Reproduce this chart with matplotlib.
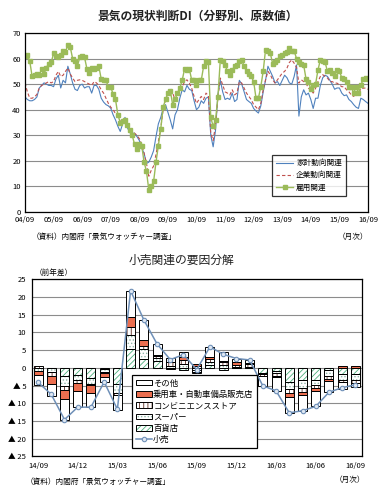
import numpy as np
import matplotlib
matplotlib.use('Agg')
import matplotlib.pyplot as plt
from matplotlib.patches import Patch
from matplotlib.lines import Line2D
from matplotlib.legend_handler import HandlerTuple

plt.rcParams['font.family'] = ['Noto Sans CJK JP', 'DejaVu Sans']
plt.rcParams['hatch.linewidth'] = 0.6

# ---- top chart: 景気ウォッチャー 現状判断DI (2004/09 - 2016/09, monthly)
household = [45, 44, 43.5, 43.5, 44, 45, 48.5, 49.5, 50.5, 50, 49.5, 49.5, 49,
             52, 53.5, 48.5, 51.5, 50.5, 57, 54, 50.5, 48, 47.5, 49.5, 50,
             48.5, 49, 49, 46.5, 49.5, 49.5, 48, 44.5, 43, 42, 41.5, 40.6,
             38, 36, 33.5, 31.5, 34.5, 37, 33, 31, 30.8, 30.8, 29.5, 28,
             25, 23, 19, 19.5, 21.5, 24, 29.5, 34.5, 37, 40.5, 42, 39,
             36, 32.5, 38, 40, 44.5, 47.8, 47, 49.5, 48, 47.5, 43.5, 40,
             41, 43.5, 42.5, 44.5, 45, 30, 25.5, 32, 46, 51.5, 47, 44,
             44.5, 44, 46.5, 43.2, 44, 51.5, 50, 47, 44, 43.2, 42.5, 40.5,
             39.5, 38.7, 41.5, 47, 51.5, 57, 55, 53, 50.5, 51, 49.5, 51.5,
             53.5, 52.5, 50.5, 50, 53, 57.5, 37.5, 45, 47.8, 45.8, 46.5, 44,
             40.5, 44.5, 44.5, 49.5, 52.5, 53.5, 53, 51.5, 50, 48, 48.5, 48.5,
             46.5, 45.5, 45.8, 44, 43.2, 42, 41, 40.5, 44.5, 44, 43.2, 42.5]
corporate = [50.5, 47, 44.5, 44.5, 45, 46, 48.5, 49.5, 50, 50.5, 51, 50.5, 51,
             53.5, 55, 53, 53.5, 55, 56.3, 54, 52.4, 51, 51.5, 51.7, 51.5,
             51, 50.5, 50, 49.5, 51, 50.5, 49.5, 47.8, 46.5, 44.5, 42.5, 41,
             40, 38.5, 37.3, 35.5, 35, 35.5, 34, 32.5, 31.5, 30.8, 30, 28.7,
             26.5, 23, 19, 14, 16.3, 18, 22.5, 27.6, 32.8, 40, 44, 46.5,
             48.4, 46.5, 44, 45.2, 47.8, 49, 51, 51.7, 50.4, 48.4, 45.2, 42.5,
             43.9, 45.2, 44, 46.5, 45.5, 30.8, 28, 34, 45, 52.4, 49.7, 47,
             46.5, 45.8, 47.8, 45.8, 46.5, 51, 50.4, 48.4, 46.5, 45.2, 43.9, 42,
             41, 40, 42.5, 47.8, 51.7, 55, 53.7, 51.7, 50.4, 51.7, 53, 54.3,
             55, 56.3, 58.5, 59.5, 58.2, 56.5, 50.4, 51.7, 51, 50.4, 48.4, 47.8,
             46.5, 48.4, 51, 53, 53.7, 53, 52.4, 51, 51, 50.4, 50.4, 49.7,
             49, 49, 47.8, 47, 45.8, 45.2, 46.5, 45.8, 48.4, 48.4, 48.5, 48]
employment = [61, 61.5, 59, 53, 53.5, 54, 53.5, 56, 54, 56.5, 58, 58.5, 62,
              61, 60.5, 61.5, 63, 62.5, 65.5, 64.5, 60, 59, 57, 60.5, 61,
              60.5, 56, 54.5, 56.5, 56, 56.5, 57, 52, 51.5, 51.5, 49, 49,
              46, 44, 38, 35, 35.5, 36, 34, 32, 30, 26.5, 24.5, 26.5,
              26, 19.5, 16, 8.5, 10, 12, 19.5, 26, 32.5, 41, 44, 46.5,
              47.5, 42, 44, 46.5, 48.5, 51.5, 56, 55.5, 56, 51.5, 51.5, 49.5,
              51.5, 51.5, 57, 59, 58.5, 37, 33.5, 36, 45, 59.5, 59, 57.5,
              55, 53.5, 55.5, 57, 57.5, 59, 59.5, 57, 55, 54, 53, 51,
              44.5, 44.5, 49, 55, 63.5, 62.8, 62, 58, 58.5, 59.5, 61, 61.5,
              62, 62.5, 64, 63, 63, 60, 58.5, 58, 57.5, 52, 51, 48,
              49.5, 50, 55.5, 59.5, 59, 58.5, 55, 55.5, 54.5, 53, 55.5, 55,
              52.5, 52, 51, 49, 49, 46.5, 49, 46.5, 49.5, 52, 52.5, 52]
top_ticklabels = ['04/09', '05/09', '06/09', '07/09', '08/09', '09/09', '10/09',
                  '11/09', '12/09', '13/09', '14/09', '15/09', '16/09']

# ---- bottom chart: 小売関連の要因分解 (2014/09 - 2016/09, monthly)
retail = [-4.1, -7.5, -14.6, -11.1, -11.1, -4.0, -11.7, 21.7, 13.5, 6.7, 2.3,
          3.7, -0.5, 5.9, 3.8, 2.6, 2.2, -5.1, -6.5, -12.7, -12.1, -10.9,
          -6.9, -5.6, -4.8]
dept = [0, 0, -2.3, -2.0, -3.0, -0.3, -4.5, 5.3, 2.6, 1.9, -0.3, -0.6, -0.6,
        0.8, -0.6, 0, 0, -1.5, -1.0, -4.0, -3.4, -3.4, -0.5, -1.7, -1.7]
supermarket = [-1.0, -1.2, -2.8, -1.5, -1.5, -0.9, -2.5, 4.0, 2.8, 0.8, 0.6,
               1.0, -0.5, 0.9, 0.8, 0.3, 0.3, -0.2, -0.5, -2.0, -2.3, -1.4,
               -1.9, -1.7, -1.7]
conv = [0.5, -1.0, -1.2, -0.7, -0.3, -0.4, -0.7, 2.2, 0.7, 0.5, 0.9, 1.2, 0.5,
        0.8, 0.8, 0.4, 0.7, -0.5, -0.7, -1.1, -1.2, -0.9, -0.8, -0.6, -0.9]
car = [-1.0, -2.3, -2.6, -2.4, -2.3, -1.0, 0, 2.8, 1.7, 0.4, 0.2, 0.7, 0.5,
       0.6, 0.4, 0.9, 0.2, -0.1, -0.3, -1.1, -0.9, -0.9, -0.4, 0.5, 0.5]
other = [-2.9, -3.5, -5.8, -4.5, -4.0, -1.4, -4.3, 7.3, 5.6, 3.1, 1.0, 1.5,
         -0.4, 2.8, 2.3, 1.0, 1.0, -2.8, -4.0, -4.5, -4.4, -4.3, -3.3, -2.1,
         -1.0]
bottom_ticklabels = ['14/09', '14/12', '15/03', '15/06', '15/09', '15/12',
                     '16/03', '16/06', '16/09']

fig = plt.figure(figsize=(3.88, 4.97), dpi=100)
fs = 5.5
grid_col = '#8c8c8c'

# ================= top chart =================
ax1 = fig.add_axes([0.0644, 0.5734, 0.884, 0.3602])
x = np.arange(len(household))
ax1.plot(x, household, color='#4f81bd', lw=0.8, label='家計動向関連')
ax1.plot(x, corporate, color='#c0504d', lw=0.8, ls=(0, (3, 2)), label='企業動向関連')
ax1.plot(x, employment, color='#9bbb59', lw=1.0, marker='s', ms=3.0,
         mec='#9bbb59', label='雇用関連')
ax1.set_xlim(0, 144)
ax1.set_ylim(0, 70)
ax1.set_yticks(range(0, 71, 10))
ax1.set_xticks(range(0, 145, 12))
ax1.set_xticklabels(top_ticklabels)
ax1.tick_params(labelsize=fs, length=0, pad=3)
ax1.yaxis.grid(True, color=grid_col, lw=0.8)
ax1.set_axisbelow(True)
for s in ax1.spines.values():
    s.set_color('black')
    s.set_linewidth(0.9)
leg1 = ax1.legend(loc='lower left', bbox_to_anchor=(0.708, 0.067),
                  fontsize=fs, frameon=True, fancybox=False, edgecolor='black',
                  handlelength=2.2, borderpad=0.6, labelspacing=0.55,
                  handletextpad=0.4)
leg1.get_frame().set_linewidth(0.9)

fig.text(0.511, 0.968, '景気の現状判断DI（分野別、原数値）', ha='center', va='center',
         fontsize=8.5, fontweight='bold', color='#222222')
fig.text(0.082, 0.523, '（資料）内閣府「景気ウォッチャー調査」', ha='left', va='center',
         fontsize=fs)
fig.text(0.948, 0.523, '（月次）', ha='right', va='center', fontsize=fs)

# ================= bottom chart =================
ax2 = fig.add_axes([0.0817, 0.0815, 0.8513, 0.3571])
xb = np.arange(len(retail))
width = 0.68
components = [
    ('百貨店', dept, 'white', '//////', '#4daf7c'),
    ('スーパー', supermarket, 'white', '.....', '#8fb8a8'),
    ('コンビニエンスストア', conv, 'white', '||||', '#5a2a20'),
    ('乗用車・自動車備品販売店', car, '#eb6e4f', None, None),
    ('その他', other, 'white', None, None),
]
pos_base = np.zeros(len(retail))
neg_base = np.zeros(len(retail))
handles = {}
for name, vals, fc, hatch, hc in components:
    vals = np.array(vals, dtype=float)
    base = np.where(vals >= 0, pos_base, neg_base)
    if hatch:
        ax2.bar(xb, vals, width, bottom=base, color=fc, edgecolor=hc,
                hatch=hatch, linewidth=0, zorder=2)
    else:
        ax2.bar(xb, vals, width, bottom=base, color=fc, linewidth=0, zorder=2)
    ax2.bar(xb, vals, width, bottom=base, fill=False, edgecolor='black',
            linewidth=0.7, zorder=3)
    pos_base = pos_base + np.clip(vals, 0, None)
    neg_base = neg_base + np.clip(vals, None, 0)
    if hatch:
        handles[name] = (Patch(facecolor=fc, edgecolor=hc, hatch=hatch, lw=0),
                         Patch(fill=False, edgecolor='black', lw=0.7))
    else:
        handles[name] = Patch(facecolor=fc, edgecolor='black', lw=0.7)

line_col = '#6f90b8'
ax2.plot(xb, retail, color=line_col, lw=1.1, marker='o', ms=3.2,
         mfc='#dfe8f3', mec=line_col, mew=0.8, zorder=4)
handles['小売'] = Line2D([], [], color=line_col, lw=1.1, marker='o', ms=3.2,
                       mfc='#dfe8f3', mec=line_col, mew=0.8)

ax2.set_xlim(-0.48, 24.5)
ax2.set_ylim(-25, 25)
yt = list(range(-25, 26, 5))
ax2.set_yticks(yt)
ax2.set_yticklabels([('▲ %d' % -v) if v < 0 else str(v) for v in yt])
ax2.set_xticks(range(0, 25, 3))
ax2.set_xticklabels(bottom_ticklabels)
ax2.tick_params(labelsize=fs, length=0, pad=4)
ax2.yaxis.grid(True, color=grid_col, lw=0.8, zorder=0)
ax2.set_axisbelow(True)
for s in ax2.spines.values():
    s.set_color('black')
    s.set_linewidth(0.9)

order = ['その他', '乗用車・自動車備品販売店', 'コンビニエンスストア', 'スーパー', '百貨店', '小売']
leg2 = ax2.legend([handles[k] for k in order], order, loc='lower left',
                  bbox_to_anchor=(0.292, 0.025), fontsize=6, frameon=True,
                  fancybox=False, edgecolor='black', handlelength=1.9,
                  handleheight=0.65, borderpad=0.45, labelspacing=0.28,
                  handletextpad=0.15, framealpha=1,
                  handler_map={tuple: HandlerTuple(ndivide=1, pad=0)})
leg2.get_frame().set_linewidth(0.9)
leg2.set_zorder(10)

fig.text(0.468, 0.476, '小売関連の要因分解', ha='center', va='center', fontsize=8.5,
         color='#222222')
fig.text(0.09, 0.451, '（前年差）', ha='left', va='center', fontsize=fs)
fig.text(0.065, 0.03, '（資料）内閣府「景気ウォッチャー調査」', ha='left', va='center',
         fontsize=fs)
fig.text(0.94, 0.034, '（月次）', ha='right', va='center', fontsize=fs)

fig.savefig('out.png', dpi=100)
plt.close(fig)
